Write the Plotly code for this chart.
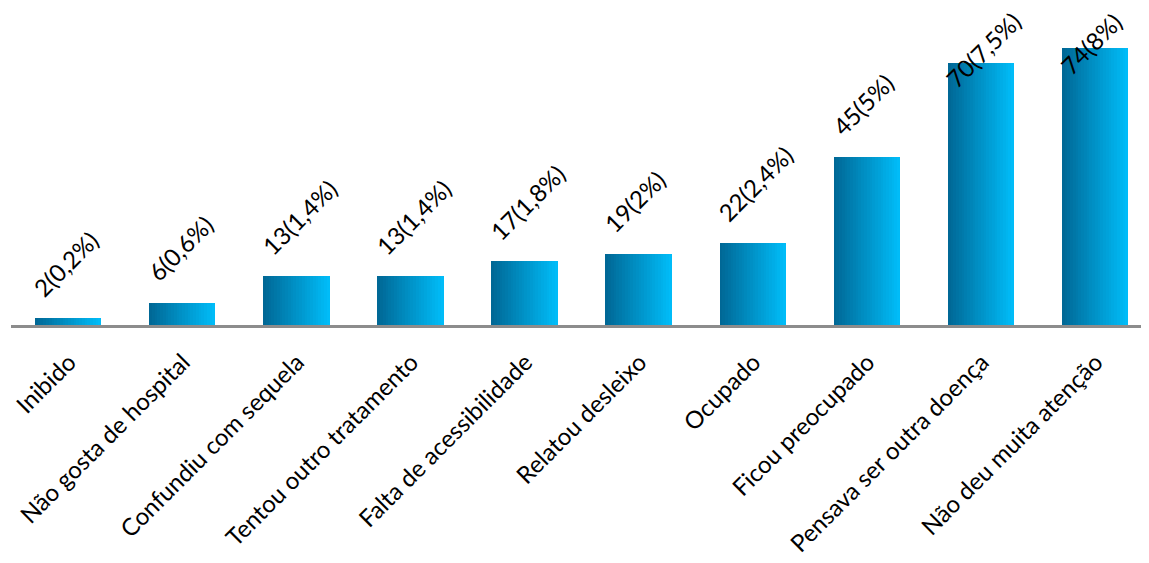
import plotly.graph_objects as go

categories = ["Inibido", "Não gosta de hospital", "Confundiu com sequela",
              "Tentou outro tratamento", "Falta de acessibilidade", "Relatou desleixo",
              "Ocupado", "Ficou preocupado", "Pensava ser outra doença",
              "Não deu muita atenção"]
counts = [2, 6, 13, 13, 17, 19, 22, 45, 70, 74]
percents = ["0,2%", "0,6%", "1,4%", "1,4%", "1,8%", "2%", "2,4%", "5%", "7,5%", "8%"]

FONT = "Lato"
FS = 24
TFS = 24
BAR_W = 0.58
N_SLICES = 24
Y_MAX = 84.7
C0 = (0, 104, 150)
C1 = (0, 188, 248)

x_idx = list(range(len(categories)))
fig = go.Figure()
sw = BAR_W / N_SLICES
for k in range(N_SLICES):
    t = k / (N_SLICES - 1)
    c = tuple(round(C0[j] + (C1[j] - C0[j]) * t) for j in range(3))
    fig.add_trace(go.Bar(
        x=x_idx, y=counts,
        width=sw * 1.08,
        offset=-BAR_W / 2 + k * sw,
        marker=dict(color="rgb(%d,%d,%d)" % c, line=dict(width=0)),
        showlegend=False, hoverinfo="skip",
    ))

for i, (v, p) in enumerate(zip(counts, percents)):
    label = "%d(%s)" % (v, p)
    common = dict(x=i - BAR_W / 2, xref="x", xanchor="left", xshift=-10,
                  text=label, textangle=-45, showarrow=False,
                  font=dict(family=FONT, size=FS, color="#000000"))
    if v > 60:
        fig.add_annotation(y=1, yref="paper", yanchor="top", yshift=4, **common)
    else:
        fig.add_annotation(y=v, yref="y", yanchor="bottom", yshift=13, **common)

fig.update_layout(
    width=1144, height=563,
    margin=dict(l=3, r=0, t=0, b=246),
    paper_bgcolor="white", plot_bgcolor="white",
    barmode="overlay", bargap=0,
    font=dict(family=FONT, size=FS, color="#000000"),
)
fig.update_xaxes(
    tickmode="array", tickvals=x_idx, ticktext=categories,
    tickangle=-45, range=[-0.5, len(categories) - 0.5],
    showline=True, linecolor="#8c8c8c", linewidth=2.5,
    showgrid=False, zeroline=False, ticks="",
    tickfont=dict(family=FONT, size=TFS, color="#000000"),
    ticklabelstandoff=11, ticklabelshift=1, automargin=False,
    ticklabeloverflow="allow",
)
fig.update_yaxes(range=[0, Y_MAX], visible=False, showgrid=False, zeroline=False)

fig.write_html("out.html")
